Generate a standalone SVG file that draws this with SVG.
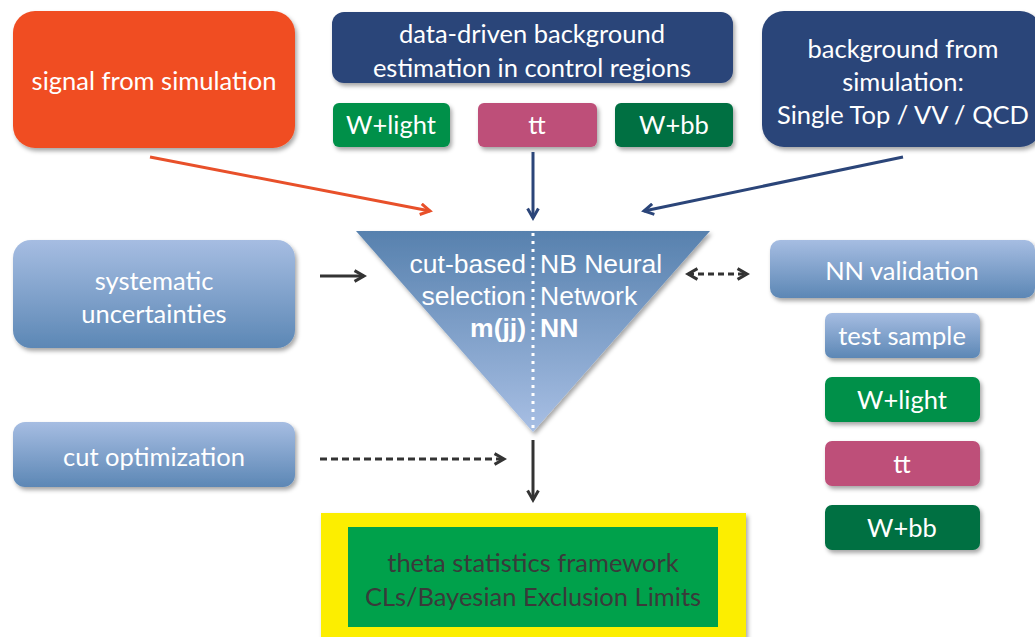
<svg xmlns="http://www.w3.org/2000/svg" width="1035" height="637" viewBox="0 0 1035 637">
<defs>
<style>
.t{font-family:Lato,"Open Sans",sans-serif;font-size:25.5px;fill:#fff;text-anchor:middle}
.a{font-family:"Liberation Sans",Arial,sans-serif;font-size:26.5px;fill:#fff}
.c{fill:none;stroke-width:3}
</style>
<linearGradient id="lb" x1="0" y1="0" x2="0" y2="1"><stop offset="0" stop-color="#A6BDE2"/><stop offset="1" stop-color="#5C87B5"/></linearGradient>
<linearGradient id="tri" x1="0" y1="0" x2="0" y2="1"><stop offset="0" stop-color="#5781AE"/><stop offset="1" stop-color="#A8BFE4"/></linearGradient>
<filter id="sh" x="-10%" y="-10%" width="125%" height="130%"><feDropShadow dx="2" dy="3" stdDeviation="2" flood-color="#000" flood-opacity="0.35"/></filter>
<marker id="ak" viewBox="0 0 10 10" refX="8" refY="5" markerWidth="4.5" markerHeight="4.5" orient="auto-start-reverse" markerUnits="strokeWidth"><path d="M1,1 L8,5 L1,9" fill="none" stroke="#333" stroke-width="2.2"/></marker>
<marker id="ar" viewBox="0 0 10 10" refX="8" refY="5" markerWidth="4.5" markerHeight="4.5" orient="auto" markerUnits="strokeWidth"><path d="M1,1 L8,5 L1,9" fill="none" stroke="#E8502A" stroke-width="2.2"/></marker>
<marker id="ab" viewBox="0 0 10 10" refX="8" refY="5" markerWidth="4.5" markerHeight="4.5" orient="auto" markerUnits="strokeWidth"><path d="M1,1 L8,5 L1,9" fill="none" stroke="#2B4579" stroke-width="2.2"/></marker>
</defs>
<rect width="1035" height="637" fill="#fff"/>

<g id="signal"><rect x="13" y="11" width="282" height="137" rx="22" fill="#F04E23" filter="url(#sh)"/><text class="t" x="154" y="90">signal from simulation</text></g>
<g id="datadriven"><rect x="332" y="12" width="401" height="71" rx="12" fill="#2B4579" filter="url(#sh)"/><text class="t" x="532" y="43">data-driven background</text><text class="t" x="532" y="77">estimation in control regions</text></g>
<g id="wlight-top"><rect x="333" y="103" width="117" height="44" rx="6" fill="#00904A" filter="url(#sh)"/><text class="t" x="391" y="134">W+light</text></g>
<g id="tt-top"><rect x="478" y="103" width="119" height="44" rx="6" fill="#BE4F79" filter="url(#sh)"/><text class="t" x="537" y="134">tt</text></g>
<g id="wbb-top"><rect x="615" y="103" width="118" height="44" rx="6" fill="#006F42" filter="url(#sh)"/><text class="t" x="674" y="134">W+bb</text></g>
<g id="bgsim"><rect x="762" y="11" width="280" height="136" rx="22" fill="#2B4579" filter="url(#sh)"/><text class="t" x="903" y="58">background from</text><text class="t" x="903" y="91">simulation:</text><text class="t" x="903" y="124">Single Top / VV / QCD</text></g>

<g id="selection"><polygon points="356,231 710,231 533,432" fill="url(#tri)" filter="url(#sh)"/>
<line x1="533" y1="233" x2="533" y2="430" stroke="#fff" stroke-width="3" stroke-dasharray="3 5"/>
<text class="a" x="526" y="273" text-anchor="end">cut-based</text><text class="a" x="526" y="305" text-anchor="end">selection</text><text class="a" x="526" y="337" text-anchor="end" font-weight="bold">m(jj)</text>
<text class="a" x="540" y="273">NB Neural</text><text class="a" x="540" y="305">Network</text><text class="a" x="540" y="337" font-weight="bold">NN</text></g>

<g id="syst"><rect x="13" y="240" width="282" height="108" rx="18" fill="url(#lb)" filter="url(#sh)"/><text class="t" x="154" y="290">systematic</text><text class="t" x="154" y="323">uncertainties</text></g>
<g id="cutopt"><rect x="13" y="422" width="282" height="65" rx="12" fill="url(#lb)" filter="url(#sh)"/><text class="t" x="154" y="466">cut optimization</text></g>
<g id="nnval"><rect x="770" y="240" width="265" height="58" rx="10" fill="url(#lb)" filter="url(#sh)"/><text class="t" x="902" y="280">NN validation</text></g>
<g id="testsample"><rect x="825" y="313" width="155" height="45" rx="7" fill="url(#lb)" filter="url(#sh)"/><text class="t" x="902" y="345">test sample</text></g>
<g id="wlight-r"><rect x="825" y="377" width="155" height="45" rx="7" fill="#00904A" filter="url(#sh)"/><text class="t" x="902" y="409">W+light</text></g>
<g id="tt-r"><rect x="825" y="441" width="155" height="45" rx="7" fill="#BE4F79" filter="url(#sh)"/><text class="t" x="902" y="473">tt</text></g>
<g id="wbb-r"><rect x="825" y="505" width="155" height="45" rx="7" fill="#006F42" filter="url(#sh)"/><text class="t" x="902" y="537">W+bb</text></g>

<g id="theta"><rect x="321" y="513" width="425" height="130" fill="#FCEE00" filter="url(#sh)"/><rect x="348" y="527" width="370" height="100" fill="#00A14B"/><text class="t" x="533" y="572" style="fill:#3A3A3A">theta statistics framework</text><text class="t" x="533" y="606" style="fill:#3A3A3A">CLs/Bayesian Exclusion Limits</text></g>

<g id="connectors">
<line class="c" x1="150" y1="157" x2="430" y2="211" stroke="#E8502A" marker-end="url(#ar)"/>
<line class="c" x1="533" y1="152" x2="533" y2="218" stroke="#2B4579" marker-end="url(#ab)"/>
<line class="c" x1="903" y1="157" x2="644" y2="211" stroke="#2B4579" marker-end="url(#ab)"/>
<line class="c" x1="320" y1="276" x2="364" y2="276" stroke="#333" marker-end="url(#ak)"/>
<line class="c" x1="688" y1="274" x2="747" y2="274" stroke="#333" stroke-dasharray="6 4" marker-start="url(#ak)" marker-end="url(#ak)"/>
<line class="c" x1="320" y1="459" x2="504" y2="459" stroke="#333" stroke-dasharray="7 4" marker-end="url(#ak)"/>
<line class="c" x1="533" y1="440" x2="533" y2="500" stroke="#333" marker-end="url(#ak)"/>
</g>
</svg>
